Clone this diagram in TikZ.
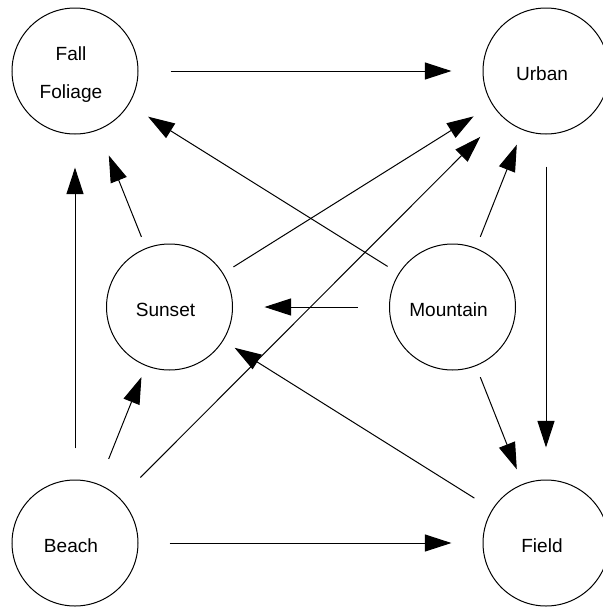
\documentclass[tikz,border=0pt]{standalone}
\usepackage{fontspec}
\setmainfont{Liberation Sans}
\usetikzlibrary{arrows.meta}

\tikzset{every picture/.style={line width=0.75pt}}
\tikzset{
  scene/.style={circle, draw, minimum size=94.5pt, inner sep=0pt},
  lbl/.style={font=\fontsize{14.3}{28.5}\selectfont, align=center, xshift=-3pt, yshift=-2pt},
  arr/.style={-{Triangle[length=20pt, width=12.8pt]}}
}

\begin{document}
\begin{tikzpicture}[x=0.75pt,y=0.75pt,yscale=-1,xscale=1]
\useasboundingbox (0,0) rectangle (603,607);

%Shape: Circle [id:fall]
\node [scene, label={[lbl, yshift=-1pt]center:Fall\\Foliage}] (fall) at (75,71) {};
%Shape: Circle [id:urban]
\node [scene, label={[lbl]center:Urban}] (urban) at (546,71) {};
%Shape: Circle [id:sunset]
\node [scene, label={[lbl]center:Sunset}] (sunset) at (169.5,307) {};
%Shape: Circle [id:mountain]
\node [scene, label={[lbl]center:Mountain}] (mountain) at (452.5,307) {};
%Shape: Circle [id:beach]
\node [scene, label={[lbl]center:Beach}] (beach) at (75,543) {};
%Shape: Circle [id:field]
\node [scene, label={[lbl]center:Field}] (field) at (546,543) {};

%Straight Lines [id:fall-urban]
\draw [arr, shorten <=24pt, shorten >=23.3pt] (fall) -- (urban) ;
%Straight Lines [id:beach-fall]
\draw [arr, shorten <=23.3pt, shorten >=24.8pt] (beach) -- (fall) ;
%Straight Lines [id:beach-sunset]
\draw [arr, shorten <=20.3pt, shorten >=9pt] (beach) -- (sunset) ;
%Straight Lines [id:beach-urban]
\draw [arr, shorten <=21.8pt, shorten >=22.1pt] (beach) -- (urban) ;
%Straight Lines [id:beach-field]
\draw [arr, shorten <=23.3pt, shorten >=23.3pt] (beach) -- (field) ;
%Straight Lines [id:sunset-fall]
\draw [arr, shorten <=9pt, shorten >=20.6pt] (sunset) -- (fall) ;
%Straight Lines [id:sunset-urban]
\draw [arr, shorten <=9pt, shorten >=16.5pt] (sunset) -- (urban) ;
%Straight Lines [id:mountain-fall]
\draw [arr, shorten <=9.8pt, shorten >=17pt] (mountain) -- (fall) ;
%Straight Lines [id:mountain-urban]
\draw [arr, shorten <=9pt, shorten >=11.8pt] (mountain) -- (urban) ;
%Straight Lines [id:mountain-sunset]
\draw [arr, shorten <=23.6pt, shorten >=23.6pt] (mountain) -- (sunset) ;
%Straight Lines [id:mountain-field]
\draw [arr, shorten <=9pt, shorten >=11.8pt] (mountain) -- (field) ;
%Straight Lines [id:field-sunset]
\draw [arr, shorten <=15.8pt, shorten >=10pt] (field) -- (sunset) ;
%Straight Lines [id:urban-field]
\draw [arr, shorten <=24pt, shorten >=24pt] (urban) -- (field) ;

\end{tikzpicture}
\end{document}
